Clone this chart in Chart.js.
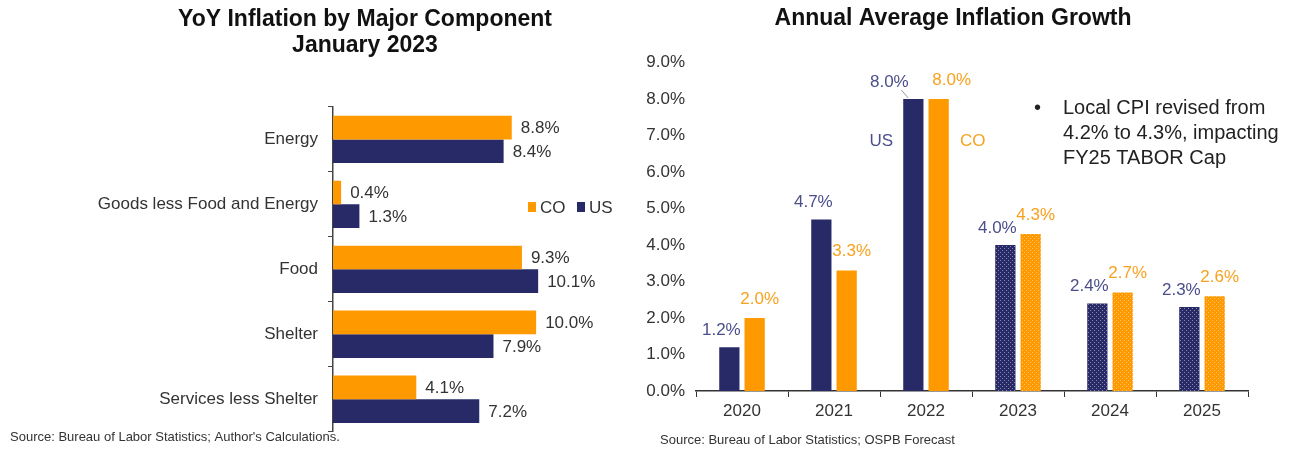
<!DOCTYPE html>
<html>
<head>
<meta charset="utf-8">
<script src="https://cdn.jsdelivr.net/npm/chart.js@4.4.1/dist/chart.umd.min.js"></script>
<style>
  body { margin: 0; background: #fff; width: 1296px; height: 452px; overflow: hidden; position: relative; }
  #left { position: absolute; left: 0; top: 0; }
  #right { position: absolute; left: 600px; top: 0; }
</style>
</head>
<body>
<canvas id="left" width="668" height="452"></canvas>
<canvas id="right" width="696" height="452"></canvas>
<script>
// left panel: YoY by component, Jan 2023
const components = ['Energy', 'Goods less Food and Energy', 'Food', 'Shelter', 'Services less Shelter'];
const coYoY = [8.8, 0.4, 9.3, 10.0, 4.1];
const usYoY = [8.4, 1.3, 10.1, 7.9, 7.2];

// right panel: annual average growth
const years = ['2020', '2021', '2022', '2023', '2024', '2025'];
const usAnnual = [1.2, 4.7, 8.0, 4.0, 2.4, 2.3];
const coAnnual = [2.0, 3.3, 8.0, 4.3, 2.7, 2.6];
const isForecast = [false, false, false, true, true, true];

const ORANGE = '#ff9900';
const NAVY = '#272a66';
const US_TXT = '#4b4e8a';
const CO_TXT = '#f9a11e';
const FONT = '"Liberation Sans", Arial, sans-serif';

Chart.defaults.font.family = FONT;
Chart.defaults.color = '#333';

function dotted(ctx, color) {
  const c = document.createElement('canvas');
  c.width = 4; c.height = 4;
  const g = c.getContext('2d');
  g.fillStyle = color;
  g.fillRect(0, 0, 4, 4);
  g.fillStyle = 'rgba(255,255,255,0.45)';
  g.fillRect(0, 0, 1, 1);
  g.fillRect(2, 2, 1, 1);
  return ctx.createPattern(c, 'repeat');
}

const fmt = v => v.toFixed(1) + '%';

// shifts the title box sideways after layout
const nudgeTitle = {
  id: 'nudgeTitle',
  afterLayout(chart, args, opts) {
    const t = chart.titleBlock;
    if (t && opts.dx) { t.left += opts.dx; t.right += opts.dx; }
  }
};

// ---------- left chart ----------
const leftLabels = {
  id: 'leftLabels',
  afterDatasetsDraw(chart) {
    const ctx = chart.ctx;
    ctx.save();
    ctx.font = '17px ' + FONT;
    ctx.fillStyle = '#333';
    ctx.textAlign = 'left';
    ctx.textBaseline = 'middle';
    chart.data.datasets.forEach((ds, i) => {
      chart.getDatasetMeta(i).data.forEach((el, j) => {
        ctx.fillText(fmt(ds.data[j]), el.x + 9, el.y + 1);
      });
    });
    // legend
    const lx = 528, ly = 207;
    chart.data.datasets.forEach((ds, i) => {
      const x = lx + i * 49;
      ctx.fillStyle = ds.backgroundColor;
      ctx.fillRect(x, ly - 5, 8, 10);
      ctx.fillStyle = '#333';
      ctx.fillText(ds.label, x + 12, ly + 1);
    });
    // source
    ctx.font = '13px ' + FONT;
    ctx.fillStyle = '#333';
    ctx.fillText('Source: Bureau of Labor Statistics; Author\'s Calculations.', 10, 437);
    ctx.restore();
  }
};

new Chart(document.getElementById('left').getContext('2d'), {
  type: 'bar',
  data: {
    labels: components,
    datasets: [
      { label: 'CO', data: coYoY, backgroundColor: ORANGE, categoryPercentage: 0.73, barPercentage: 1.0 },
      { label: 'US', data: usYoY, backgroundColor: NAVY, categoryPercentage: 0.73, barPercentage: 1.0 }
    ]
  },
  options: {
    indexAxis: 'y',
    responsive: false,
    animation: false,
    layout: { padding: { left: 72, right: 10, top: 0, bottom: 20 } },
    plugins: {
      legend: { display: false },
      tooltip: { enabled: false },
      title: {
        display: true,
        text: ['YoY Inflation by Major Component', 'January 2023'],
        font: { size: 23, weight: 'bold', lineHeight: 1.15 },
        color: '#111',
        padding: { top: 6, bottom: 48 }
      }
    },
    scales: {
      x: { display: false, min: 0, max: 16 },
      y: {
        afterFit(s) { s.width = 261; },
        grid: { offset: true, drawOnChartArea: false, tickLength: 5, color: '#444' },
        border: { color: '#444', width: 1.5 },
        ticks: { font: { size: 17 }, color: '#333', padding: 10 }
      }
    }
  },
  plugins: [leftLabels]
});

// ---------- right chart ----------
const rightLabels = {
  id: 'rightLabels',
  afterDatasetsDraw(chart) {
    const ctx = chart.ctx;
    ctx.save();
    ctx.font = '17px ' + FONT;
    ctx.textAlign = 'center';
    ctx.textBaseline = 'middle';
    const usMeta = chart.getDatasetMeta(0).data;
    const coMeta = chart.getDatasetMeta(1).data;
    usMeta.forEach((el, j) => {
      let dx = -8;
      ctx.fillStyle = US_TXT;
      if (j === 2) {
        dx = -24;
        ctx.strokeStyle = '#999';
        ctx.lineWidth = 1;
        ctx.beginPath();
        ctx.moveTo(el.x - 12, el.y - 9);
        ctx.lineTo(el.x - 5, el.y - 1);
        ctx.stroke();
      }
      ctx.fillText(fmt(usAnnual[j]), el.x + dx, el.y - 17);
    });
    coMeta.forEach((el, j) => {
      const dx = j === 2 ? 13 : 5;
      ctx.fillStyle = CO_TXT;
      ctx.fillText(fmt(coAnnual[j]), el.x + dx, el.y - 19);
    });
    // series tags beside the 2022 bars
    const us22 = usMeta[2], co22 = coMeta[2];
    ctx.fillStyle = US_TXT;
    ctx.fillText('US', us22.x - 32, us22.y + 42);
    ctx.fillStyle = CO_TXT;
    ctx.fillText('CO', co22.x + 34, co22.y + 42);

    // note
    ctx.textAlign = 'left';
    ctx.fillStyle = '#222';
    ctx.font = '20px ' + FONT;
    ctx.fillText('\u2022', 434, 108);
    ['Local CPI revised from', '4.2% to 4.3%, impacting', 'FY25 TABOR Cap'].forEach((t, k) => {
      ctx.fillText(t, 463, 108 + k * 25);
    });
    // source
    ctx.font = '13px ' + FONT;
    ctx.fillStyle = '#333';
    ctx.fillText('Source: Bureau of Labor Statistics; OSPB Forecast', 60, 440);
    ctx.restore();
  }
};

const rctx = document.getElementById('right').getContext('2d');
const usFill = dotted(rctx, NAVY);
const coFill = dotted(rctx, ORANGE);

new Chart(rctx, {
  type: 'bar',
  data: {
    labels: years,
    datasets: [
      { label: 'US', data: usAnnual, backgroundColor: usAnnual.map((v, i) => isForecast[i] ? usFill : NAVY) },
      { label: 'CO', data: coAnnual, backgroundColor: coAnnual.map((v, i) => isForecast[i] ? coFill : ORANGE) }
    ]
  },
  options: {
    responsive: false,
    animation: false,
    datasets: { bar: { categoryPercentage: 0.55, barPercentage: 0.8 } },
    layout: { padding: { left: 22, right: 48, top: 0, bottom: 20 } },
    plugins: {
      legend: { display: false },
      tooltip: { enabled: false },
      nudgeTitle: { dx: 18 },
      title: {
        display: true,
        text: 'Annual Average Inflation Growth',
        font: { size: 23, weight: 'bold', lineHeight: 1.2 },
        color: '#111',
        padding: { top: 5, bottom: 30 }
      }
    },
    scales: {
      y: {
        min: 0, max: 9,
        afterFit(s) { s.width = 74; },
        grid: { display: false, drawTicks: false },
        border: { display: false },
        ticks: { stepSize: 1, callback: v => fmt(v), font: { size: 17 }, color: '#333', padding: 11 }
      },
      x: {
        afterFit(s) { s.height = 41; },
        grid: { offset: true, drawOnChartArea: false, tickLength: 6, color: '#333' },
        border: { color: '#333', width: 1.5 },
        ticks: { font: { size: 17 }, color: '#333', padding: 4 }
      }
    }
  },
  plugins: [rightLabels, nudgeTitle]
});
</script>
</body>
</html>
